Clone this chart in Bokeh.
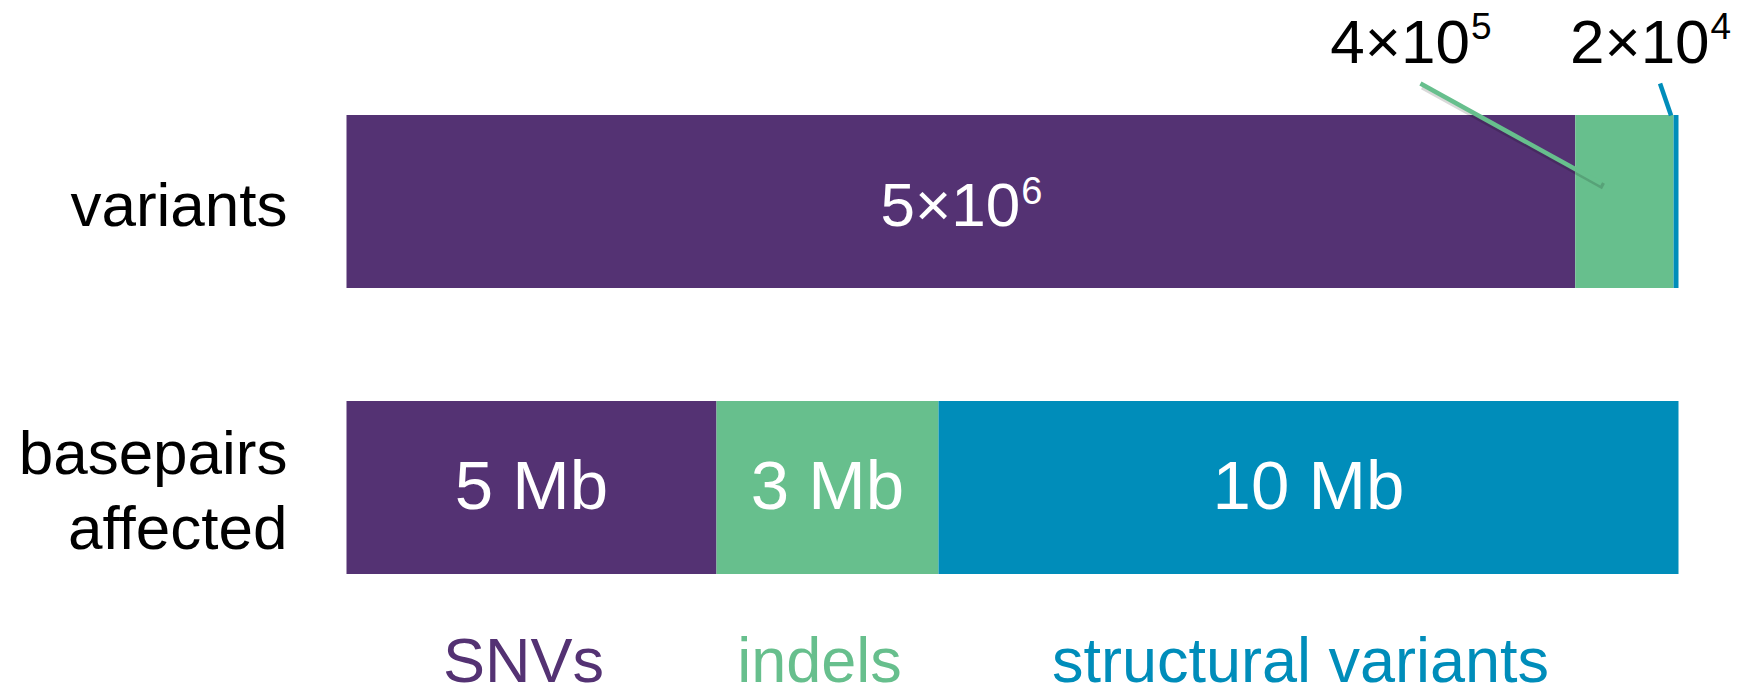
from bokeh.plotting import figure
from bokeh.models import Range1d, ColumnDataSource
from bokeh.core.properties import value
from bokeh.embed import file_html
from bokeh.resources import INLINE

# ---------------- data ----------------
rows = ["variants", "basepairs\naffected"]
categories = ["SNVs", "indels", "structural variants"]
variant_counts = [5e6, 4e5, 2e4]
variant_label_base = ["5×10", "4×10", "2×10"]
variant_label_exp = ["6", "5", "4"]
basepairs_mb = [5, 3, 10]
basepair_labels = ["5 Mb", "3 Mb", "10 Mb"]

# ---------------- style / layout ----------------
colors = ["#543273", "#67BF8D", "#008DBA"]
FONT = value("Liberation Sans")
W, H = 1752, 695
BAR_L, BAR_W = 346, 1332      # pixel extent of a full (100 %) bar
ROW0, ROW_STEP = 201, 286     # pixel centre of first row, distance between rows
BAR_H = 173 / ROW_STEP

ARIAL_W = {c: 0.556 for c in "0123456789"}
ARIAL_W["×"] = 0.584


def fix(off, fs):
    # empirical correction: renderer places alphabetic baseline ~0.33 em low
    return off - 0.33 * fs


def px_x(dx):
    return dx / BAR_W


def px_y(dy):
    return dy / ROW_STEP


def stack(vals):
    total = float(sum(vals))
    lefts, rights, acc = [], [], 0.0
    for v in vals:
        lefts.append(acc / total)
        acc += v
        rights.append(acc / total)
    return lefts, rights


p = figure(width=W, height=H,
           x_range=Range1d(-BAR_L / BAR_W, (W - BAR_L) / BAR_W),
           y_range=Range1d((H - ROW0) / ROW_STEP, -ROW0 / ROW_STEP),
           x_axis_location=None, y_axis_location=None,
           output_backend="svg", toolbar_location=None, min_border=0)
p.grid.visible = False
p.outline_line_color = None
p.background_fill_color = "white"
p.border_fill_color = "white"

# ---------------- bars ----------------
v_left, v_right = stack(variant_counts)
b_left, b_right = stack(basepairs_mb)
src = ColumnDataSource(dict(
    y=[0] * 3 + [1] * 3,
    left=v_left + b_left,
    right=v_right + b_right,
    color=colors + colors,
))
p.hbar(y="y", left="left", right="right", height=BAR_H, color="color",
       line_color=None, source=src)

v_mid = [(a + b) / 2 for a, b in zip(v_left, v_right)]
b_mid = [(a + b) / 2 for a, b in zip(b_left, b_right)]

# ---------------- row labels ----------------
ROW_FS = 62
for i, lab in enumerate(rows):
    lines = lab.split("\n")
    n = len(lines)
    for j, line in enumerate(lines):
        off = 23 + (j - (n - 1) / 2) * 75
        p.text(x=[0], y=[i], text=[line], x_offset=-59, y_offset=fix(off, ROW_FS),
               text_align="right", text_baseline="alphabetic",
               text_font=FONT, text_font_size=f"{ROW_FS}px", text_color="black")


def sup_text(x, y, base, exp, fs, fs_sup, color, x_off, y_off, rise):
    bw = sum(ARIAL_W[c] for c in base) * fs
    sw = sum(ARIAL_W[c] for c in exp) * fs_sup
    total = bw + sw
    p.text(x=[x], y=[y], text=[base], x_offset=x_off - total / 2, y_offset=fix(y_off, fs),
           text_align="left", text_baseline="alphabetic",
           text_font=FONT, text_font_size=f"{fs}px", text_color=color)
    p.text(x=[x], y=[y], text=[exp], x_offset=x_off - total / 2 + bw + 1,
           y_offset=fix(y_off - rise, fs_sup), text_align="left", text_baseline="alphabetic",
           text_font=FONT, text_font_size=f"{fs_sup}px", text_color=color)


# SNV count inside bar
sup_text(v_mid[0], 0, variant_label_base[0], variant_label_exp[0], 62, 38,
         "white", 0, 23, 21)

# call-outs for the small segments (indels, SVs)
callout_dx = {1: -214, 2: -26}               # label centre relative to segment centre (px)
leader_end = {1: (-23, -18), 2: (-5, -86)}   # leader end relative to segment centre / row centre (px)
LABEL_BASE = -140                            # baseline relative to row centre (px)
for k in (1, 2):
    sup_text(v_mid[k], 0, variant_label_base[k], variant_label_exp[k], 62, 37,
             "black", callout_dx[k], LABEL_BASE, 23)
    x0 = v_mid[k] + px_x(callout_dx[k] + 10)
    y0 = px_y(LABEL_BASE + 22)
    x1 = v_mid[k] + px_x(leader_end[k][0])
    y1 = px_y(leader_end[k][1])
    if k == 1:
        p.segment(x0=[x0 + px_x(2)], y0=[y0 + px_y(3)], x1=[x1 + px_x(2)], y1=[y1 + px_y(3)],
                  line_color="black", line_alpha=0.15, line_width=6)
    p.segment(x0=[x0], y0=[y0], x1=[x1], y1=[y1], line_color=colors[k], line_width=4.5)

# basepair labels inside bars
MB_FS = 69
p.text(x=b_mid, y=[1] * 3, text=basepair_labels, y_offset=fix(21, MB_FS),
       text_align="center", text_baseline="alphabetic",
       text_font=FONT, text_font_size=f"{MB_FS}px", text_color="white")

# category labels below
CAT_FS = 63
p.text(x=b_mid, y=[1] * 3, text=categories, x_offset=-8, y_offset=fix(193, CAT_FS),
       text_align="center", text_baseline="alphabetic",
       text_font=FONT, text_font_size=f"{CAT_FS}px", text_color=colors)

open("out.html", "w").write(file_html(p, INLINE))
